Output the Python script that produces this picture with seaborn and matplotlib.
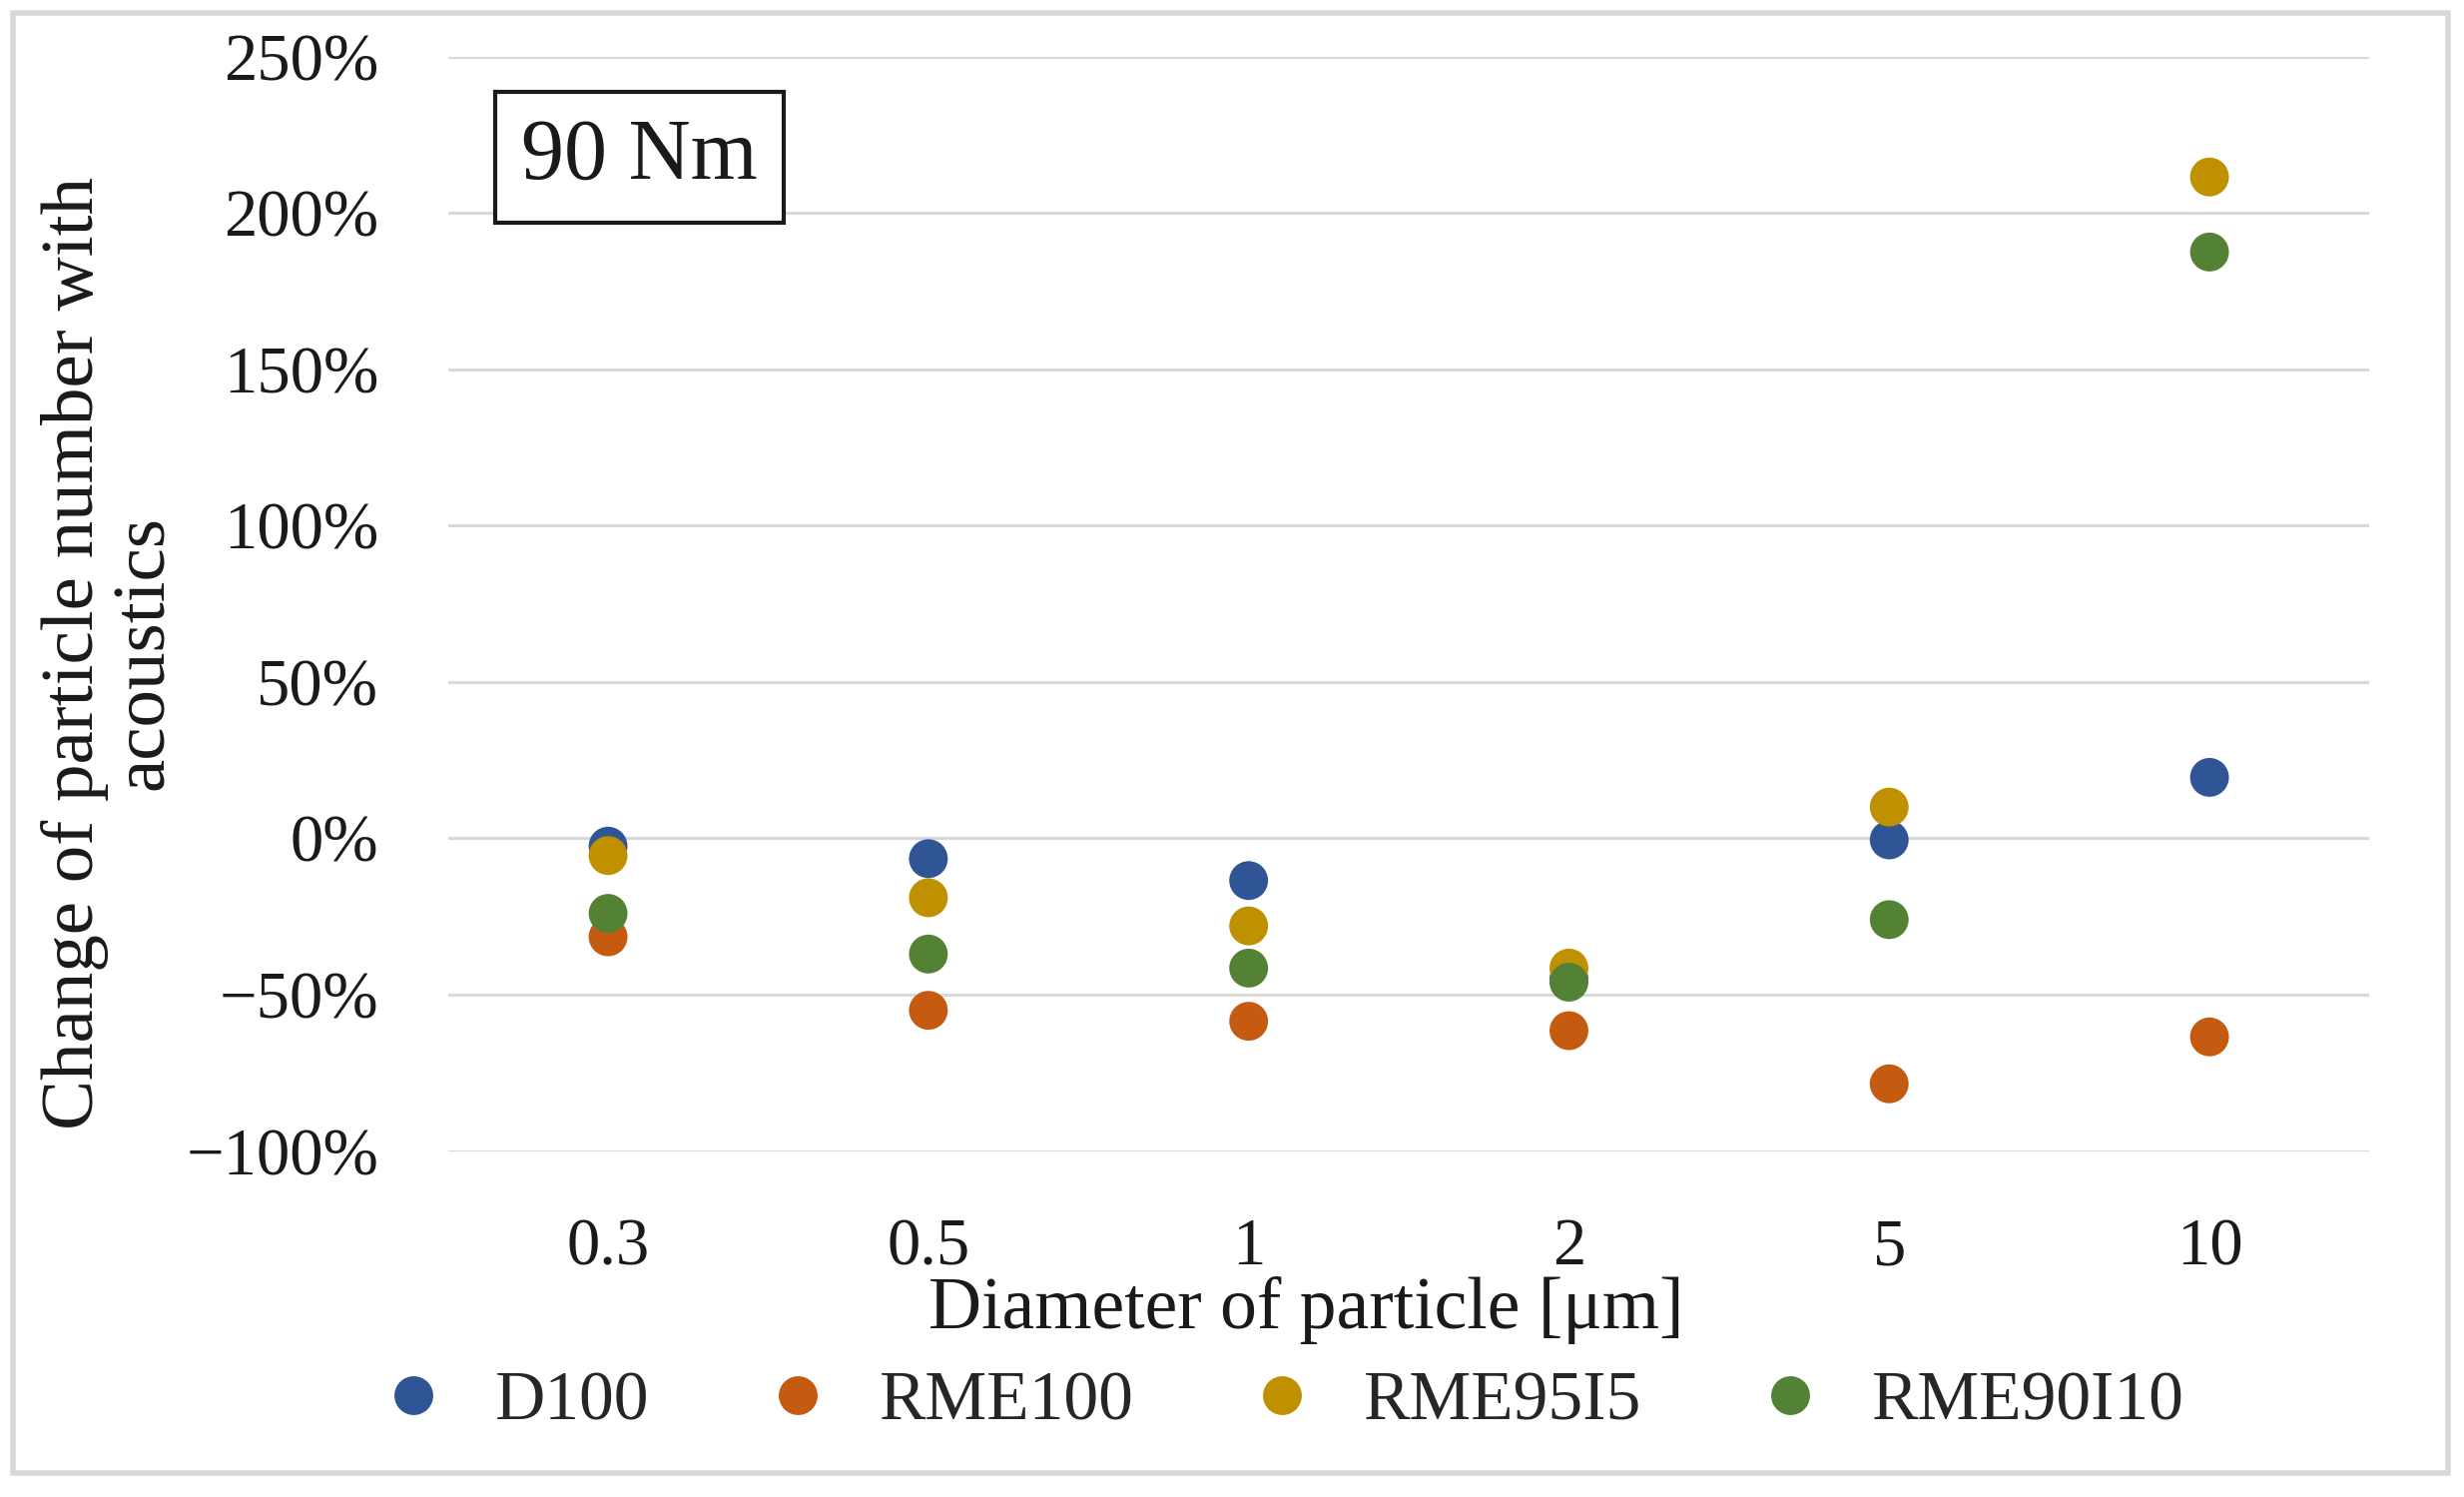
import matplotlib
matplotlib.use("Agg")
import matplotlib.pyplot as plt
import seaborn as sns
import pandas as pd
from matplotlib.patches import Rectangle
from matplotlib.ticker import FuncFormatter

categories = ["0.3", "0.5", "1", "2", "5", "10"]
series_names = ["D100", "RME100", "RME95I5", "RME90I10"]
d100 = [-2.5, -6.5, -13.5, -45.0, -0.5, 19.5]
rme100 = [-31.5, -55.0, -58.5, -61.5, -78.5, -63.5]
rme95i5 = [-5.5, -19.0, -28.0, -41.5, 10.0, 211.5]
rme90i10 = [-24.0, -37.0, -41.5, -46.0, -26.0, 187.5]
colors = ["#2F5597", "#C55A11", "#BF9000", "#548235"]
y_ticks = [-100, -50, 0, 50, 100, 150, 200, 250]

sns.set_theme(style="white")
plt.rcParams["font.family"] = ["Liberation Serif", "DejaVu Serif"]

rows = []
for name, vals in zip(series_names, [d100, rme100, rme95i5, rme90i10]):
    for c, v in zip(categories, vals):
        rows.append({"Diameter": c, "Change": v, "Series": name})
df = pd.DataFrame(rows)

fig = plt.figure(figsize=(24.68, 14.99), dpi=100)
ax = fig.add_axes([0.1818, 0.2311, 0.9617 - 0.1818, 0.9622 - 0.2311])

sns.stripplot(data=df, x="Diameter", y="Change", hue="Series", order=categories,
              hue_order=series_names, palette=colors, jitter=False, dodge=False,
              size=28, linewidth=0, ax=ax, legend=True)

ax.set_xlim(-0.5, 5.5)
ax.set_ylim(-100, 250)
ax.set_yticks(y_ticks)
ax.yaxis.set_major_formatter(FuncFormatter(lambda v, p: f"{int(v)}%".replace("-", "\u2212")))
ax.grid(axis="y", color="#D9D9D9", linewidth=2.3)
ax.grid(axis="x", visible=False)
ax.set_axisbelow(True)
for s in ax.spines.values():
    s.set_visible(False)
ax.tick_params(axis="both", length=0, labelsize=48, colors="#1a1a1a")
ax.tick_params(axis="y", pad=50)
ax.tick_params(axis="x", pad=48)
ax.set_xlabel("")
ax.set_ylabel("")

fig.text(831 / 1568, 1 - 833 / 952, "Diameter of particle [\u03bcm]", ha="center", va="center",
         fontsize=53, color="#1a1a1a")

fig.text(0.0446, 0.564, "Change of particle number with\nacoustics", rotation=90,
         ha="center", va="center", fontsize=54, linespacing=1.05, color="#1a1a1a",
         multialignment="center")

fig.text(407 / 1568, 1 - 100 / 952, "90 Nm", ha="center", va="center", fontsize=62, color="#1a1a1a",
         bbox=dict(boxstyle="square,pad=0.3", facecolor="white", edgecolor="#1a1a1a", linewidth=3))

handles, labels = ax.get_legend_handles_labels()
ax.legend_.remove()
leg = fig.legend(handles, labels, loc="center", bbox_to_anchor=(0.52, 1 - 892 / 952), ncol=4,
                 frameon=False, fontsize=50, markerscale=1.0, handletextpad=0.68,
                 columnspacing=1.64, handlelength=1.0)

fig.patches.append(Rectangle((13 / 2468, 0.016), (2452 - 13) / 2468, 1 - 0.016 - 13 / 1499,
                             transform=fig.transFigure, fill=False, edgecolor="#D9D9D9",
                             linewidth=4))

fig.savefig("out.png", dpi=100, facecolor="white")
